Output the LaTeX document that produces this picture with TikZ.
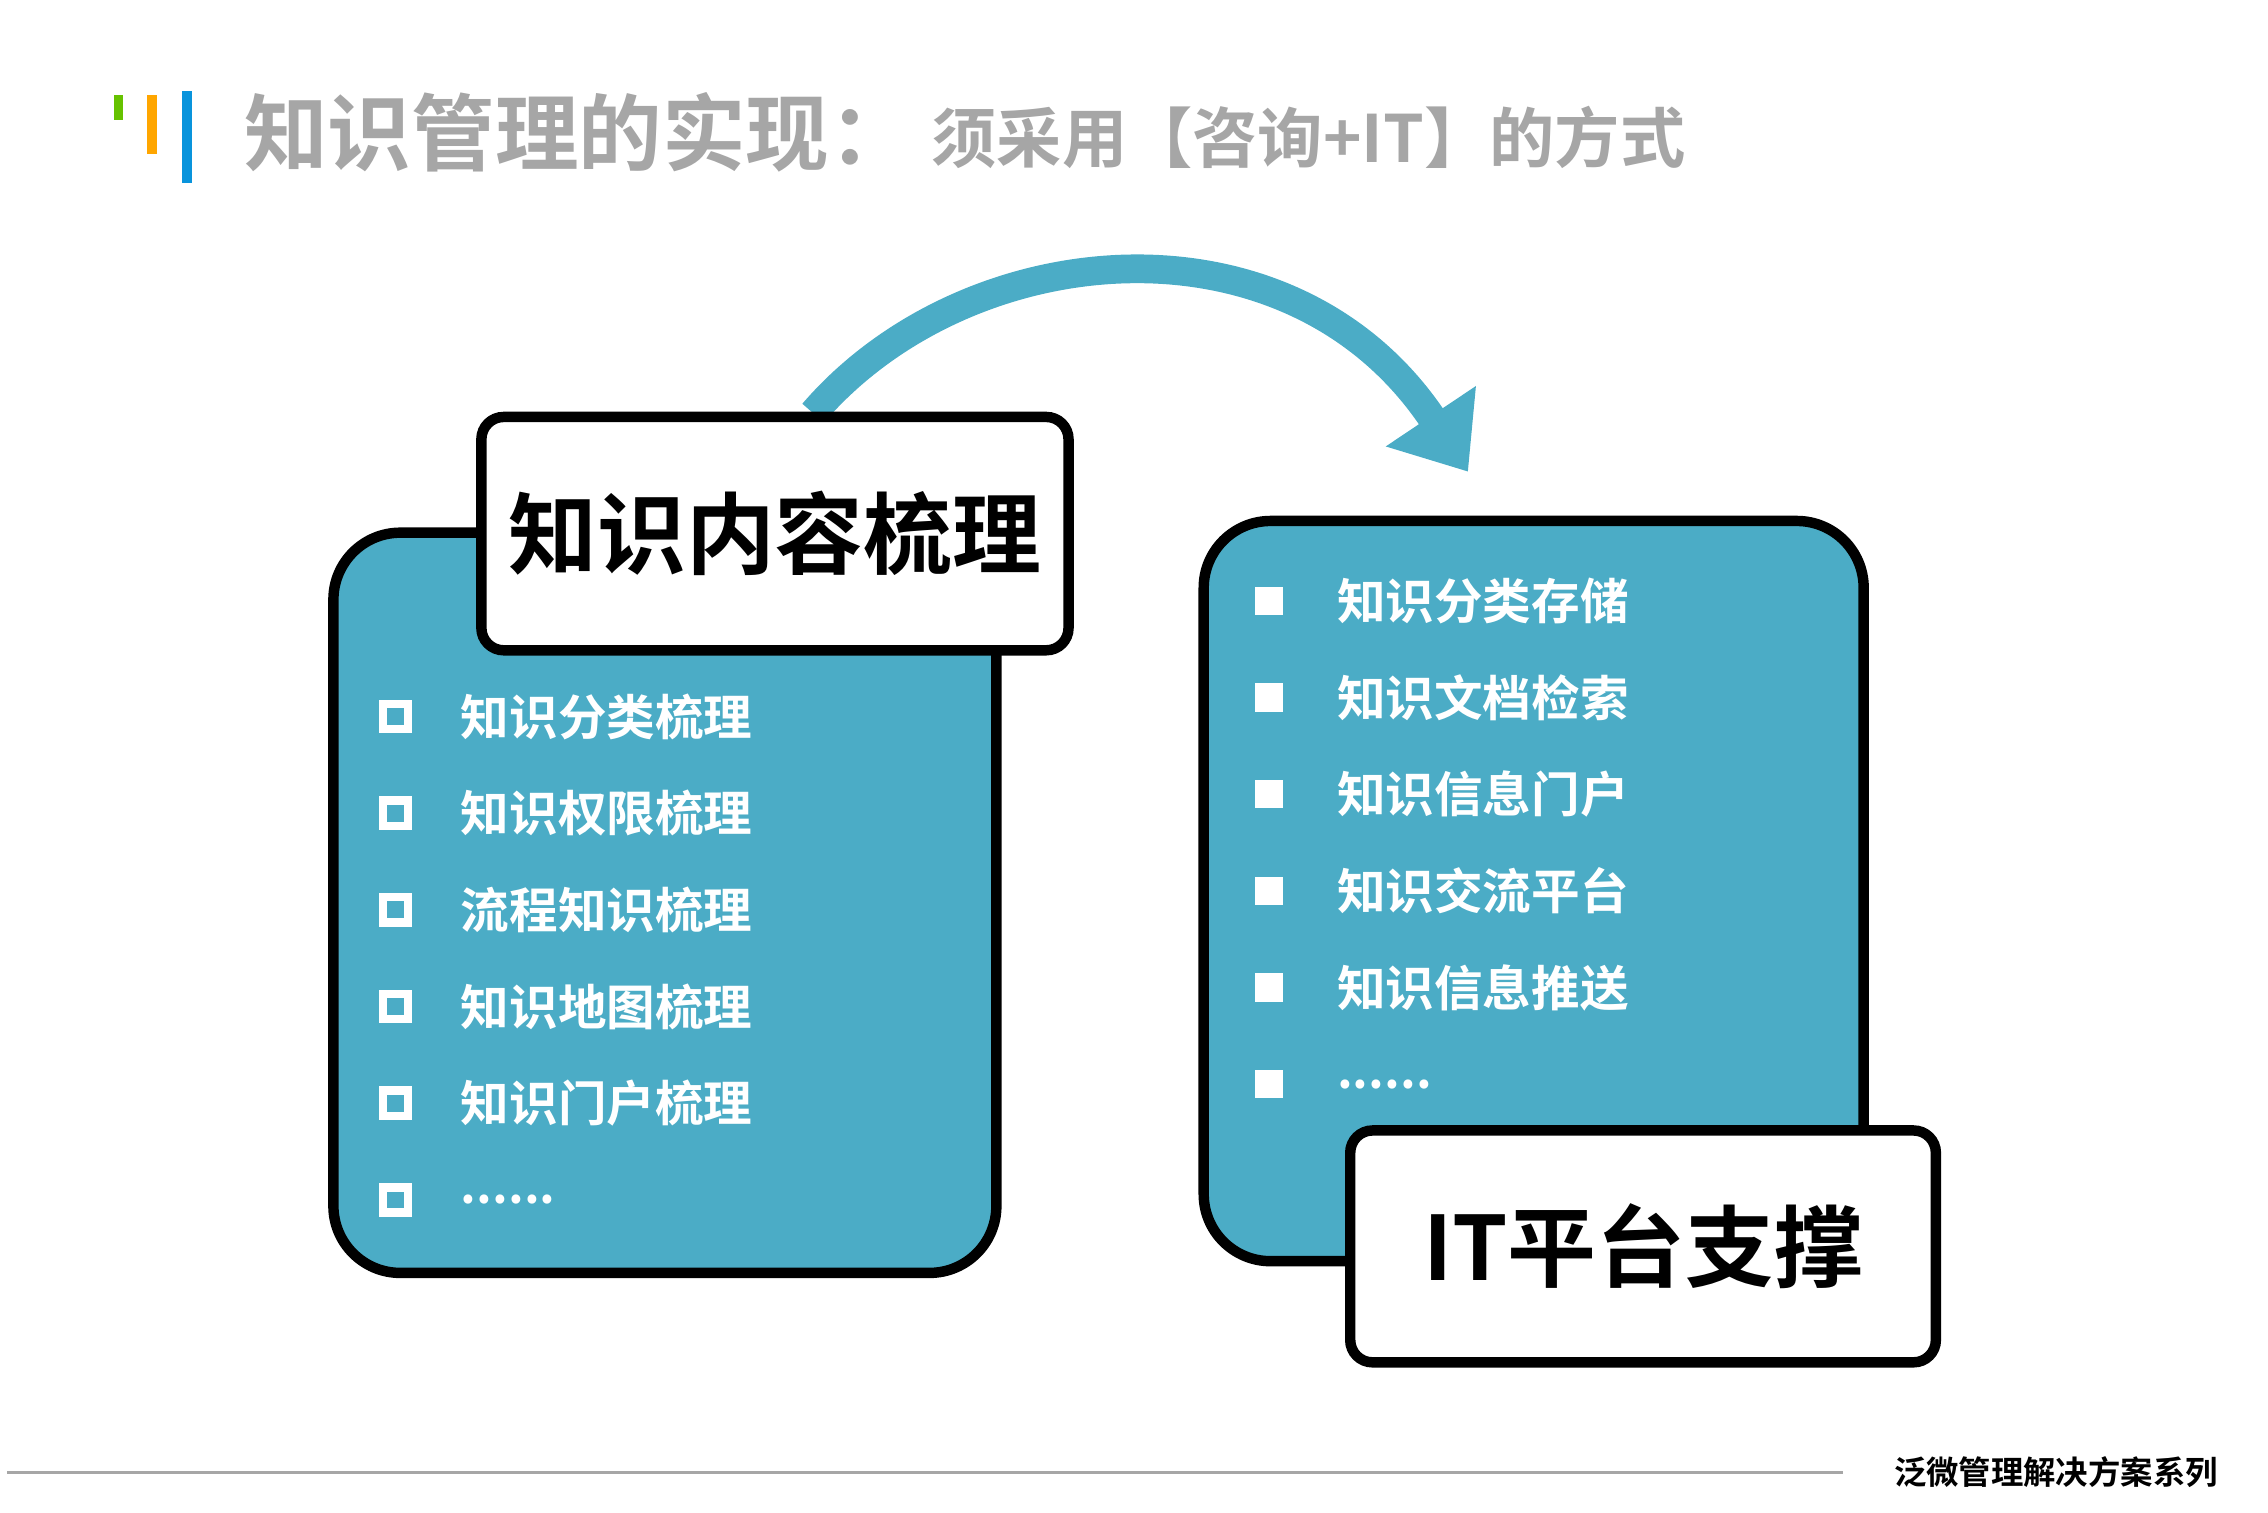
\documentclass[tikz,border=0pt]{standalone}
\usepackage{fontspec}
\setmainfont{Noto Sans CJK SC}
\newfontfamily\cjkb{Noto Sans CJK SC Bold}
\usetikzlibrary{arrows.meta}
\newcommand\sixdots{......}
\definecolor{tb}{HTML}{4BACC6}
\definecolor{tg}{HTML}{A6A6A6}
\tikzset{
 panel/.style={draw=black,line width=2pt,fill=tb,rounded corners=0.45cm,anchor=north west,inner sep=0},
 head/.style={draw=black,line width=2pt,fill=white,rounded corners=0.15cm,anchor=north west,inner sep=0},
 htext/.style={font=\cjkb\fontsize{17}{19}\selectfont},
 item/.style={anchor=west,text=white,font=\cjkb\fontsize{9.3}{11}\selectfont},
 hsq/.style={draw=white,line width=1.6pt,minimum size=0.17cm,inner sep=0},
 fsq/.style={fill=white,minimum size=0.19cm,inner sep=0},
}
\begin{document}
\begin{tikzpicture}[x=0.00986cm,y=-0.00986cm]
\useasboundingbox (0,0) rectangle (1548,1032);
% title bars
\fill[green!60!black!60!yellow] (78,65) rectangle (84,82);
\fill[orange!70!yellow] (100,65) rectangle (107,105);
\fill[cyan!80!blue] (124,62) rectangle (131,125);
\node[anchor=west,text=tg,font=\cjkb\fontsize{16}{18}\selectfont,inner sep=0] (t1) at (166,90) {知识管理的实现：};
\node[anchor=west,text=tg,font=\cjkb\fontsize{12.5}{14}\selectfont,inner sep=0] (t2) at (635,94) {须采用【咨询+IT】的方式};
% arrow
\coordinate (as) at (555,282);
\coordinate (ae) at (1002,322);
\draw[tb,line width=5.5pt,-{Triangle[length=0.45cm,width=0.7cm]}] (as) .. controls (660,160) and (880,140) .. (ae);
% left panel
\node[panel,minimum width=4.46cm,minimum height=4.98cm] (lp) at (224,360) {};
\node[head,minimum width=3.95cm,minimum height=1.57cm] (lh) at (325,281) {};
\node[htext] (lht) at (lh.center) {知识内容梳理};
\foreach \y/\t [count=\i] in {489/知识分类梳理,555/知识权限梳理,621/流程知识梳理,687/知识地图梳理,753/知识门户梳理,819/\sixdots}{
 \node[hsq] (ls\i) at (270,\y) {};
 \node[item] (lt\i) at (302,\y) {\t};
}
% right panel
\node[panel,minimum width=4.44cm,minimum height=4.98cm] (rp) at (818,352) {};
\foreach \y/\t [count=\i] in {410/知识分类存储,476/知识文档检索,542/知识信息门户,608/知识交流平台,674/知识信息推送,740/\sixdots}{
 \node[fsq] (rs\i) at (866,\y) {};
 \node[item] (rt\i) at (900,\y) {\t};
}
\node[head,minimum width=3.94cm,minimum height=1.56cm] (rh) at (918,768) {};
\node[htext] (rht) at (rh.center) {IT平台支撑};
% footer
\coordinate (f1) at (5,1005);
\coordinate (f2) at (1258,1005);
\draw[gray!70,line width=0.6pt] (f1) -- (f2);
\node[anchor=west,font=\cjkb\fontsize{6.2}{7}\selectfont,inner sep=0] (ft) at (1292,1005) {泛微管理解决方案系列};
\end{tikzpicture}
\end{document}
